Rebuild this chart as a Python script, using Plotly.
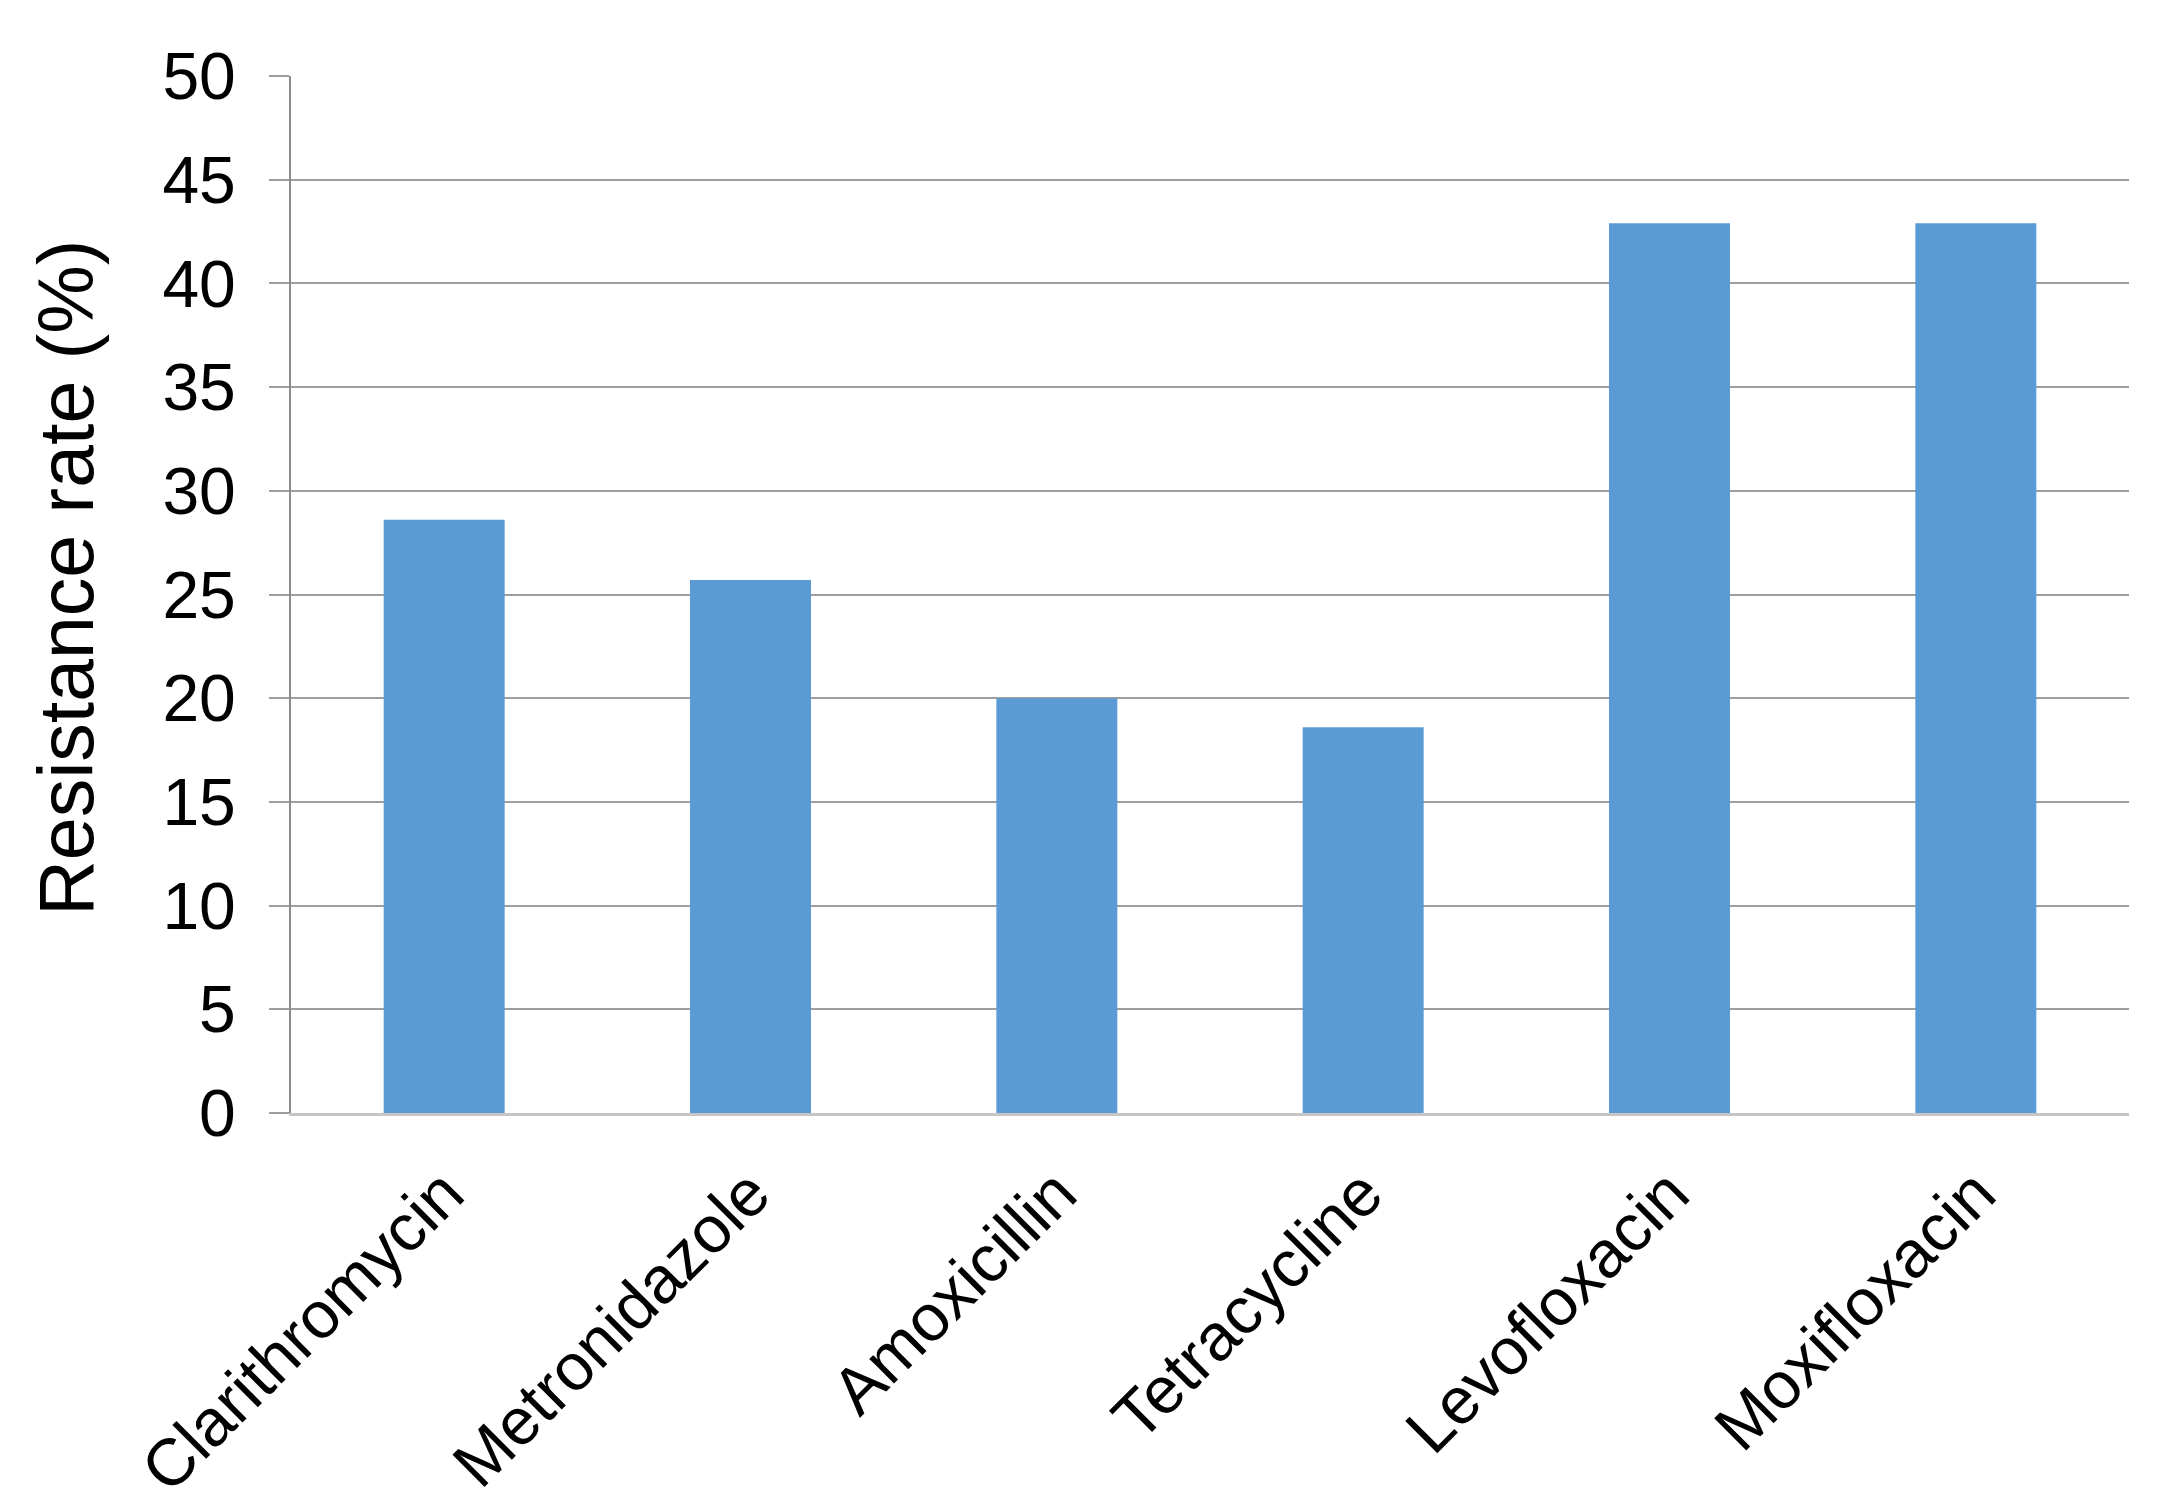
import plotly.graph_objects as go

categories = ["Clarithromycin", "Metronidazole", "Amoxicillin", "Tetracycline", "Levofloxacin", "Moxifloxacin"]
resistance = [28.6, 25.7, 20.0, 18.6, 42.9, 42.9]
y_ticks = [0, 5, 10, 15, 20, 25, 30, 35, 40, 45, 50]
y_title = "Resistance rate (%)"

fig = go.Figure()
fig.add_trace(go.Bar(
    x=categories, y=resistance,
    marker=dict(color="#5B9BD5", line=dict(width=0)),
    width=0.395,
))

font_family = "Liberation Sans, Arial, sans-serif"
fig.update_layout(
    width=2174, height=1511,
    margin=dict(l=283, r=53, t=68, b=406),
    paper_bgcolor="white", plot_bgcolor="white",
    showlegend=False,
    font=dict(family=font_family, color="black"),
)
fig.update_xaxes(
    showline=True, linecolor="#c6c6c6", linewidth=3,
    ticks="", tickangle=-45, ticklabelstandoff=12,
    tickfont=dict(size=66, family=font_family, color="black"),
    showgrid=False,
)
fig.update_yaxes(
    range=[0, 50], tickvals=y_ticks,
    showline=True, linecolor="#8c8c8c", linewidth=2,
    showgrid=True, gridcolor="#9e9e9e", gridwidth=2,
    ticks="outside", ticklen=20, tickcolor="#9e9e9e", tickwidth=2,
    ticklabelstandoff=20,
    tickfont=dict(size=66, family=font_family, color="black"),
    zeroline=False,
)
fig.add_annotation(
    text=y_title, textangle=-90, showarrow=False,
    xref="paper", yref="paper", x=-0.1225, y=0.516,
    xanchor="center", yanchor="middle",
    font=dict(size=77, family=font_family, color="black"),
)

fig.write_html("out.html")
